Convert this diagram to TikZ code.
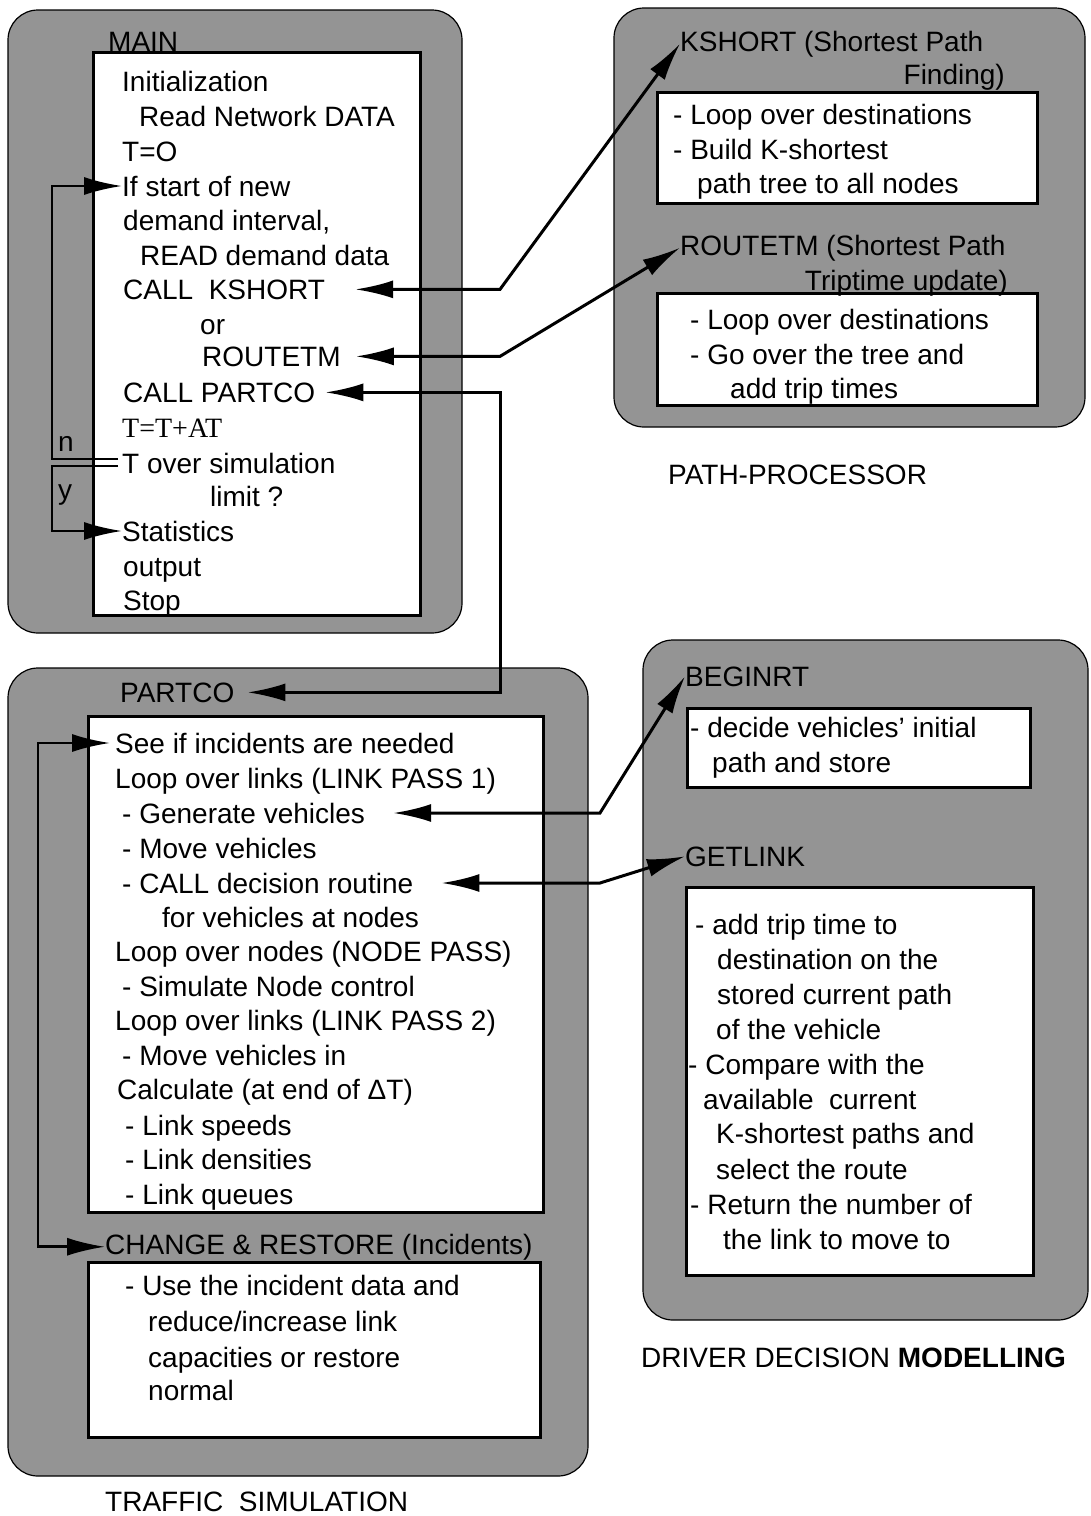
\documentclass[tikz,border=0pt]{standalone}
\usepackage{fontspec}
\setmainfont{Liberation Sans}
\newfontfamily\romana{Liberation Serif}
\usetikzlibrary{arrows.meta}
\newcommand{\letra}{\fontsize{28}{34}\selectfont}
\tikzset{
	x=1pt, y=-1pt, % Coordenadas en pixeles, y hacia abajo
	>={Latex[length=38pt,width=18pt]}, % Puntas de flecha grandes y rellenas
	bloque/.style={draw=black, line width=1.2pt, fill=black!42, rounded corners=30pt}, % Modulos grises
	caja/.style={draw=black, line width=3pt, fill=white}, % Cajas blancas
	txt/.style={anchor=base west, inner sep=0pt, font=\letra}, % Lineas de texto
	txtd/.style={anchor=base east, inner sep=0pt, font=\letra}, % Texto alineado a la derecha
	enlace/.style={<->, line width=3pt}, % Llamadas entre modulos
	lazo/.style={line width=2.6pt} % Lineas de retorno
}

\begin{document}
\begin{tikzpicture}
	\useasboundingbox (0,0) rectangle (1091,1516);
	% modulos
	\draw[bloque] (8,10) rectangle (462,633);
	\draw[bloque] (614,8) rectangle (1085,427);
	\draw[bloque] (8,668) rectangle (588,1476);
	\draw[bloque] (643,640) rectangle (1088,1320);
	\draw[caja] (93,52) rectangle (420,615);
	\draw[caja] (657,92) rectangle (1037,203);
	\draw[caja] (657,293) rectangle (1037,405);
	\draw[caja] (88,716) rectangle (543,1212);
	\draw[caja] (88,1262) rectangle (540,1437);
	\draw[caja] (687,708) rectangle (1030,787);
	\draw[caja] (686,887) rectangle (1033,1275);

	% MAIN
	\node[txt] (main) at (108,51) {MAIN};
	\node[txt] (init) at (122,91) {Initialization};
	\node[txt] (readnet) at (139,126) {Read Network DATA};
	\node[txt] (tcero) at (122,161) {T=O};
	\node[txt] (ifst) at (122,196) {If start of new};
	\node[txt] (demint) at (123,230) {demand interval,};
	\node[txt] (readdem) at (140,265) {READ demand data};
	\node[txt] (callk) at (123,299) {CALL~~KSHORT};
	\node[txt] (orr) at (200,334) {or};
	\node[txt] (callr) at (202,366) {ROUTETM};
	\node[txt] (callp) at (123,402) {CALL PARTCO};
	\node[txt, font=\romana\letra] (tinc) at (122,437) {T=T+AT};
	\node[txt] (tover) at (122,473) {T over simulation};
	\node[txt] (limit) at (210,506) {limit ?};
	\node[txt] (stats) at (122,541) {Statistics};
	\node[txt] (output) at (123,576) {output};
	\node[txt] (stop) at (123,610) {Stop};
	\node[txt] (nlab) at (58,451) {n};
	\node[txt] (ylab) at (58,499) {y};

	% PATH-PROCESSOR
	\node[txt] (kshort) at (680,51) {KSHORT (Shortest Path};
	\node[txtd] (kfind) at (1005,84) {Finding)};
	\node[txt] (kl1) at (673,124) {- Loop over destinations};
	\node[txt] (kl2) at (673,159) {- Build K-shortest};
	\node[txt] (kl3) at (697,193) {path tree to all nodes};
	\node[txt] (routetm) at (680,255) {ROUTETM (Shortest Path};
	\node[txtd] (rtrip) at (1008,290) {Triptime update)};
	\node[txt] (rl1) at (690,329) {- Loop over destinations};
	\node[txt] (rl2) at (690,364) {- Go over the tree and};
	\node[txt] (rl3) at (730,398) {add trip times};
	\node[txt] (pathproc) at (668,484) {PATH-PROCESSOR};

	% TRAFFIC SIMULATION
	\node[txt] (partco) at (120,702) {PARTCO};
	\node[txt] (seeif) at (115,753) {See if incidents are needed};
	\node[txt] (lpass1) at (115,788) {Loop over links (LINK PASS 1)};
	\node[txt] (genveh) at (122,823) {- Generate vehicles};
	\node[txt] (movveh) at (122,858) {- Move vehicles};
	\node[txt] (calldec) at (122,893) {- CALL decision routine};
	\node[txt] (fornod) at (162,927) {for vehicles at nodes};
	\node[txt] (npass) at (115,961) {Loop over nodes (NODE PASS)};
	\node[txt] (simnod) at (122,996) {- Simulate Node control};
	\node[txt] (lpass2) at (115,1030) {Loop over links (LINK PASS 2)};
	\node[txt] (movin) at (122,1065) {- Move vehicles in};
	\node[txt] (calc) at (117,1099) {Calculate (at end of ΔT)};
	\node[txt] (lspeed) at (125,1135) {- Link speeds};
	\node[txt] (ldens) at (125,1169) {- Link densities};
	\node[txt] (lqueue) at (125,1204) {- Link queues};
	\node[txt] (change) at (105,1254) {CHANGE \& RESTORE (Incidents)};
	\node[txt] (cl1) at (125,1295) {- Use the incident data and};
	\node[txt] (cl2) at (148,1331) {reduce/increase link};
	\node[txt] (cl3) at (148,1367) {capacities or restore};
	\node[txt] (cl4) at (148,1400) {normal};
	\node[txt] (trafsim) at (105,1511) {TRAFFIC~~SIMULATION};

	% DRIVER DECISION MODELLING
	\node[txt] (beginrt) at (685,686) {BEGINRT};
	\node[txt] (bl1) at (690,737) {- decide vehicles' initial};
	\node[txt] (bl2) at (712,772) {path and store};
	\node[txt] (getlink) at (685,866) {GETLINK};
	\node[txt] (gl1) at (695,934) {- add trip time to};
	\node[txt] (gl2) at (717,969) {destination on the};
	\node[txt] (gl3) at (717,1004) {stored current path};
	\node[txt] (gl4) at (716,1039) {of the vehicle};
	\node[txt] (gl5) at (688,1074) {- Compare with the};
	\node[txt] (gl6) at (703,1109) {available~~current};
	\node[txt] (gl7) at (716,1143) {K-shortest paths and};
	\node[txt] (gl8) at (716,1179) {select the route};
	\node[txt] (gl9) at (690,1214) {- Return the number of};
	\node[txt] (gl10) at (723,1249) {the link to move to};
	\node[txt] (driver) at (641,1367) {DRIVER DECISION \textbf{MODELLING}};

	% retornos
	\coordinate (nx) at (118,459);
	\coordinate (yx) at (118,466);
	\coordinate (lzn) at (52,300);
	\coordinate (lzy) at (52,500);
	\coordinate (lzt) at (38,1000);
	\draw[lazo,->] (nx) -| (lzn) |- (ifst.west);
	\draw[lazo,->] (yx) -| (lzy) |- (stats.west);
	\draw[lazo,<->, shorten <=5pt] (seeif.west) -| (lzt) |- (change.west);

	% llamadas
	\coordinate (jx) at (500,0);
	\coordinate (jx2) at (600,0);
	\draw[enlace, shorten <=30pt] (callk.east) -- (callk.east -| jx) -- (kshort.west);
	\draw[enlace, shorten <=15pt] (callr.east) -- (callr.east -| jx) -- (routetm.west);
	\draw[enlace, shorten <=10pt, shorten >=13pt] (callp.east) -- (callp.east -| jx) |- (partco.east);
	\draw[enlace, shorten <=28pt] (genveh.east) -- (genveh.east -| jx2) -- (beginrt.west);
	\draw[enlace, shorten <=28pt] (calldec.east) -- (calldec.east -| jx2) -- (getlink.west);
\end{tikzpicture}
\end{document}
